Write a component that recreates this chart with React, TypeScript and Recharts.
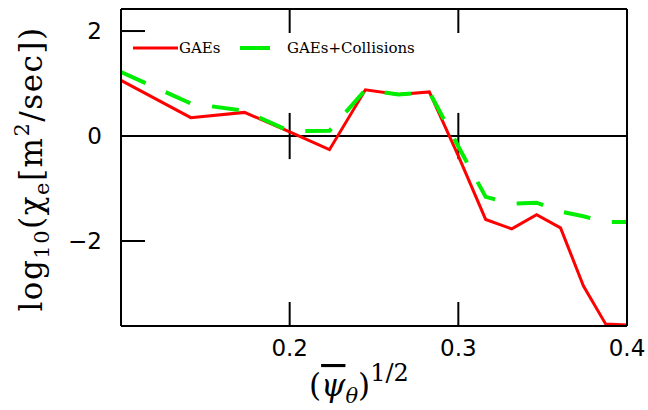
import React from 'react';
import {
  LineChart,
  Line,
  XAxis,
  YAxis,
  ReferenceLine,
  Customized,
} from 'recharts';

// sqrt of normalised poloidal flux
const psiRoot = [0.1, 0.1414, 0.1732, 0.2, 0.2236, 0.2449, 0.2646, 0.2828, 0.3, 0.3162, 0.3317, 0.3464, 0.3606, 0.3742, 0.3873, 0.4];
// log10 chi_e, GAEs only
const gaes = [1.06, 0.35, 0.45, 0.08, -0.26, 0.88, 0.79, 0.84, -0.38, -1.59, -1.77, -1.5, -1.75, -2.86, -3.58, -3.6];
// log10 chi_e, GAEs + collisions
const gaesColl = [1.22, 0.62, 0.48, 0.09, 0.1, 0.88, 0.79, 0.84, -0.2, -1.16, -1.29, -1.27, -1.44, -1.53, -1.64, -1.64];

const xTicks = [0.2, 0.3, 0.4];
const yTicks = [-2, 0, 2];
const xDomain = [0.1, 0.4];
const yDomain = [-3.62, 2.42];

const data = psiRoot.map((x, i) => ({ x, gaes: gaes[i], coll: gaesColl[i] }));

const RED = '#ff0000';
const GREEN = '#00ee00';
const serif = '"DejaVu Serif", serif';
const sans = '"DejaVu Sans", sans-serif';

const fmtY = (v: number) => (v < 0 ? `\u2212${-v}` : `${v}`);

// axis titles and legend, drawn as plain svg text
const Decorations = () => (
  <g>
    {/* legend */}
    <line x1={133} y1={48} x2={178} y2={48} stroke={RED} strokeWidth={3} />
    <text x={179} y={53} fontFamily={serif} fontSize={15} fill="#000">GAEs</text>
    <line x1={240} y1={48} x2={270} y2={48} stroke={GREEN} strokeWidth={4} />
    <text x={287} y={53} fontFamily={serif} fontSize={15} fill="#000">GAEs+Collisions</text>

    {/* x title */}
    <text x={309} y={396} fontFamily={serif} fontSize={31} fill="#000">
      (
      <tspan fontStyle="italic" textDecoration="overline">ψ</tspan>
      <tspan fontStyle="italic" fontSize={21} dy={7}>θ</tspan>
      <tspan dy={-7}>)</tspan>
      <tspan fontSize={24} dy={-15}>1/2</tspan>
    </text>

    {/* y title */}
    <text
      transform="translate(42,169) rotate(-90)"
      textAnchor="middle"
      fontFamily={serif}
      fontSize={31}
      letterSpacing={1.5}
      fill="#000"
    >
      log
      <tspan fontSize={21} dy={7}>10</tspan>
      <tspan dy={-7}>(χ</tspan>
      <tspan fontSize={21} dy={7}>e</tspan>
      <tspan dy={-7}>[m</tspan>
      <tspan fontSize={21} dy={-13}>2</tspan>
      <tspan dy={13}>/sec])</tspan>
    </text>
  </g>
);

export default function App() {
  const axisLine = { stroke: '#000', strokeWidth: 2 };
  const tickLine = { stroke: '#000', strokeWidth: 2 };
  return (
    <div style={{ position: 'absolute', left: 0, top: 0, width: 648, height: 410, background: '#fff' }}>
      <LineChart width={648} height={410} data={data} margin={{ top: 0, right: 0, bottom: 0, left: 0 }}>
        <XAxis
          dataKey="x"
          type="number"
          domain={xDomain}
          ticks={xTicks}
          interval={0}
          height={84}
          tickSize={-24}
          tickMargin={38}
          axisLine={axisLine}
          tickLine={tickLine}
          tick={{ fill: '#000', fontSize: 23, fontFamily: sans }}
        />
        <XAxis
          xAxisId="top"
          orientation="top"
          dataKey="x"
          type="number"
          domain={xDomain}
          ticks={[0.2, 0.3]}
          height={9}
          tickSize={-24}
          axisLine={axisLine}
          tickLine={tickLine}
          tickFormatter={() => ''}
        />
        <YAxis
          type="number"
          domain={yDomain}
          ticks={yTicks}
          interval={0}
          width={121}
          tickSize={-24}
          tickMargin={43}
          axisLine={axisLine}
          tickLine={tickLine}
          tickFormatter={fmtY}
          tick={{ fill: '#000', fontSize: 23, fontFamily: sans }}
        />
        <YAxis
          yAxisId="right"
          orientation="right"
          type="number"
          domain={yDomain}
          ticks={yTicks}
          width={21}
          tickSize={-24}
          axisLine={axisLine}
          tickLine={tickLine}
          tickFormatter={() => ''}
        />
        <ReferenceLine y={0} stroke="#000" strokeWidth={2} />
        <ReferenceLine segment={[{ x: 0.2, y: -0.44 }, { x: 0.2, y: 0.44 }]} stroke="#000" strokeWidth={2} />
        <ReferenceLine segment={[{ x: 0.3, y: -0.44 }, { x: 0.3, y: 0.44 }]} stroke="#000" strokeWidth={2} />
        <Line
          type="linear"
          dataKey="gaes"
          stroke={RED}
          strokeWidth={3}
          dot={false}
          isAnimationActive={false}
        />
        <Line
          type="linear"
          dataKey="coll"
          stroke={GREEN}
          strokeWidth={4}
          strokeDasharray="27 22"
          dot={false}
          isAnimationActive={false}
        />
        <Customized component={Decorations} />
      </LineChart>
    </div>
  );
}
